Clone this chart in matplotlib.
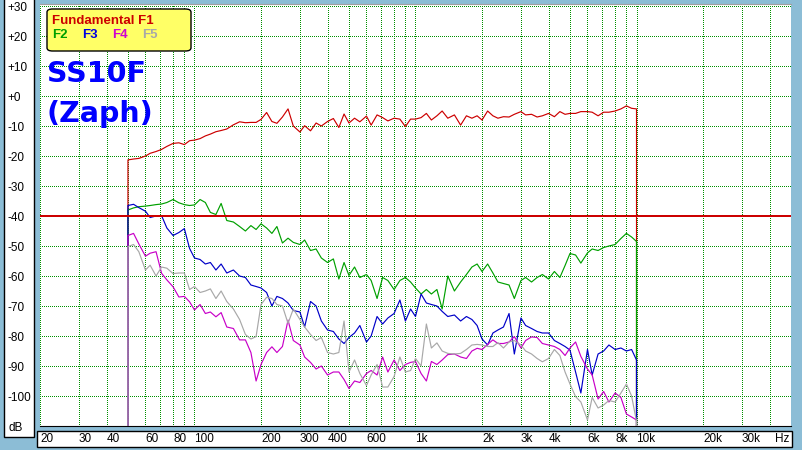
import matplotlib.pyplot as plt
from matplotlib.patches import Rectangle, FancyBboxPatch
from matplotlib.transforms import blended_transform_factory

# ---------------------------------------------------------
# Data (Hz / dB)
# ---------------------------------------------------------
freqs = [50, 53, 56, 60, 63, 67, 71, 75, 80, 85, 90, 95,
         100, 106, 112, 118, 125, 132, 140, 150, 160, 170, 180, 190,
         200, 212, 224, 236, 250, 265, 280, 300, 315, 335, 355, 375,
         400, 425, 450, 475, 500, 530, 560, 600, 630, 670, 710, 750,
         800, 850, 900, 950, 1000, 1060, 1120, 1180, 1250, 1320, 1400, 1500,
         1600, 1700, 1800, 1900, 2000, 2120, 2240, 2360, 2500, 2650, 2800, 3000,
         3150, 3350, 3550, 3750, 4000, 4250, 4500, 4750, 5000, 5300, 5600, 6000,
         6300, 6700, 7100, 7500, 8000, 8500, 9000, 9500, 10000]

f1 = [-21.3, -21.0, -20.8, -20.0, -19.1, -18.5, -17.8, -16.8, -15.8, -15.6, -16.2, -14.9,
      -14.7, -14.2, -13.3, -12.7, -11.9, -11.5, -11.0, -9.6, -8.6, -8.9, -8.8, -8.8,
      -7.8, -5.5, -8.5, -9.1, -7.0, -4.3, -10.0, -12.0, -9.9, -11.6, -9.0, -10.0,
      -8.5, -7.5, -10.5, -6.0, -9.0, -7.4, -8.6, -6.7, -9.7, -6.3, -7.2, -8.3,
      -7.4, -7.7, -10.2, -7.7, -7.7, -7.2, -5.8, -8.0, -6.6, -5.0, -7.4, -6.3,
      -9.7, -6.6, -7.4, -6.6, -8.0, -5.0, -6.6, -7.4, -6.9, -7.0, -6.1, -5.2,
      -6.3, -6.1, -7.0, -6.6, -5.8, -6.9, -5.2, -6.1, -5.8, -5.8, -5.2, -5.2,
      -5.4, -6.6, -5.4, -5.4, -5.0, -4.3, -3.3, -4.1, -4.3]

f2 = [-38.0, -37.3, -36.9, -36.7, -36.5, -36.2, -36.0, -35.5, -34.5, -35.6, -36.2, -36.5,
      -36.3, -34.5, -35.5, -38.8, -39.5, -35.8, -41.5, -42.0, -43.5, -45.0, -43.2, -44.5,
      -42.6, -44.0, -45.8, -43.5, -49.0, -47.4, -48.8, -49.5, -48.0, -51.5, -51.0, -54.0,
      -55.5, -54.3, -61.0, -55.5, -59.8, -57.0, -60.5, -59.5, -61.5, -67.5, -60.5, -61.5,
      -64.5, -61.5, -60.5, -62.0, -64.0, -66.0, -64.5, -66.0, -64.5, -71.0, -60.0, -65.0,
      -62.0, -59.5, -57.0, -56.0, -58.5, -56.0, -59.0, -62.0, -62.5, -63.0, -67.5, -61.5,
      -60.5, -62.0, -60.5, -59.5, -61.0, -58.5, -60.5, -56.5, -52.5, -53.0, -55.7, -52.3,
      -51.0, -51.5, -50.5, -50.0, -49.5, -47.5, -45.8, -47.0, -48.5]

f3 = [-36.5, -36.1, -37.2, -38.4, -40.5, -40.0, -39.9, -44.0, -46.5, -45.5, -44.2, -50.8,
      -54.0, -54.5, -56.0, -55.5, -58.0, -56.0, -59.0, -58.0, -60.0, -60.5, -63.0, -63.5,
      -64.0, -65.5, -70.0, -66.8, -67.5, -69.0, -71.5, -72.0, -77.0, -68.5, -70.0, -75.0,
      -78.0, -78.5, -81.0, -82.5, -80.5, -79.0, -76.5, -82.0, -80.0, -73.5, -76.0, -74.0,
      -72.5, -68.0, -75.0, -71.0, -73.5, -66.0, -69.0, -69.5, -70.0, -71.8, -73.5, -73.0,
      -75.0, -73.5, -74.5, -76.5, -81.0, -83.0, -79.0, -78.0, -77.0, -72.5, -86.0, -74.0,
      -76.5, -77.5, -78.5, -79.0, -79.0, -81.5, -82.5, -83.5, -84.7, -92.0, -99.0, -84.5,
      -93.0, -86.0, -85.0, -83.0, -84.5, -84.0, -85.0, -84.5, -88.0]

f4 = [-46.5, -45.8, -49.3, -53.4, -52.4, -51.9, -59.1, -61.3, -63.6, -67.0, -66.8, -68.6,
      -71.3, -69.5, -72.5, -72.0, -73.6, -72.2, -77.0, -77.5, -81.3, -81.3, -85.5, -95.0,
      -89.5, -85.5, -83.6, -85.5, -83.5, -74.7, -81.5, -83.0, -87.0, -88.8, -91.0, -90.0,
      -93.0, -92.0, -92.0, -94.5, -97.5, -95.0, -95.5, -92.5, -91.5, -93.0, -87.0, -92.0,
      -88.0, -91.5, -89.5, -88.8, -88.5, -92.5, -95.0, -88.5, -89.5, -88.0, -86.2, -86.0,
      -87.0, -87.5, -85.0, -84.1, -84.5, -82.8, -81.3, -82.5, -82.5, -82.0, -80.2, -84.0,
      -81.5, -80.3, -80.5, -82.5, -83.0, -83.5, -84.5, -86.5, -84.0, -82.0, -86.8, -91.0,
      -93.0, -101.0, -98.5, -102.0, -99.0, -100.5, -106.0, -107.0, -108.0]

f5 = [-50.2, -49.5, -51.9, -58.0, -56.4, -60.0, -57.0, -57.4, -59.2, -59.0, -59.0, -64.5,
      -63.5, -65.5, -65.0, -64.3, -67.5, -65.0, -68.5, -71.0, -74.5, -79.5, -81.0, -80.2,
      -69.5, -67.1, -67.5, -69.5, -70.0, -75.8, -71.0, -74.5, -77.0, -79.5, -81.5, -80.5,
      -85.5, -86.0, -85.5, -75.0, -92.0, -88.0, -92.5, -96.5, -93.0, -89.5, -97.0, -97.0,
      -93.5, -87.0, -92.0, -91.5, -87.5, -90.0, -76.0, -84.0, -82.3, -85.0, -85.8, -86.0,
      -85.8, -84.5, -83.0, -82.8, -83.0, -83.5, -83.5, -82.2, -84.0, -82.0, -81.5, -83.0,
      -85.0, -86.0, -87.5, -88.6, -87.5, -84.5, -86.5, -92.0, -96.0, -100.2, -102.0, -108.0,
      -100.5, -104.0, -103.0, -101.5, -102.0, -99.0, -96.0, -100.0, -108.5]

# drawn in this order (F5 ends up on top, like the analyser does)
series_vals = [f1, f2, f3, f4, f5]
series_colors = ['#cc0000', '#00a000', '#0000c8', '#c800c8', '#a8a8a8']

legend_title = 'Fundamental F1'
legend_names = ['F2', 'F3', 'F4', 'F5']
legend_colors = ['#00a000', '#0000e0', '#d000d0', '#a8a8a8']

ref_level = -40            # red reference line
floor_db = -130            # curves drop off-scale at both ends

y_ticks = [30, 20, 10, 0, -10, -20, -30, -40, -50, -60, -70, -80, -90, -100]
y_labels = ['+30', '+20', '+10', '+0', '-10', '-20', '-30', '-40', '-50',
            '-60', '-70', '-80', '-90', '-100']
x_ticks = [20, 30, 40, 60, 80, 100, 200, 300, 400, 600, 1000, 2000, 3000,
           4000, 6000, 8000, 10000, 20000, 30000]
x_labels = ['20', '30', '40', '60', '80', '100', '200', '300', '400', '600',
            '1k', '2k', '3k', '4k', '6k', '8k', '10k', '20k', '30k']
grid_freqs = [m * d for d in (10, 100, 1000, 10000) for m in range(1, 10)
              if 20 <= m * d <= 50000]

W, H = 803, 450
BG = '#8cbdd6'
GRID = '#009000'
PX = 0.72                  # one screen pixel in points at 100 dpi


def fx(x):
    return x / W


def fy(y):
    return 1 - y / H


fig = plt.figure(figsize=(W / 100, H / 100), dpi=100, facecolor=BG)
ax = fig.add_axes([fx(40), fy(426), 751 / W, 422 / H])
ax.set_xscale('log')
ax.set_xlim(20, 50000)
ax.set_ylim(-110, 30.67)
ax.tick_params(which='both', length=0, labelbottom=False, labelleft=False)
for side in ('left', 'right'):
    ax.spines[side].set_visible(False)
ax.spines['top'].set_color('#a0a0a0')
ax.spines['bottom'].set_color('black')

# ---------------------------------------------------------
# Grid (1 px dots)
# ---------------------------------------------------------
for f in grid_freqs:
    ax.axvline(f, color=GRID, lw=PX, ls=(0, (1, 2)), zorder=1, antialiased=False)
for db in y_ticks:
    ax.axhline(db, color=GRID, lw=PX, ls=(0, (1, 2)), zorder=1, antialiased=False)

# ---------------------------------------------------------
# Curves
# ---------------------------------------------------------
for vals, col in zip(series_vals, series_colors):
    xs = [freqs[0]] + freqs + [freqs[-1]]
    ys = [floor_db] + vals + [floor_db]
    ax.plot(xs, ys, color=col, lw=0.85, zorder=3)

ax.axhline(ref_level, color='#cc0000', lw=2 * PX, zorder=4, antialiased=False)

# ---------------------------------------------------------
# Label panels
# ---------------------------------------------------------
fig.add_artist(Rectangle((fx(4), fy(437)), 30 / W, 440 / H, transform=fig.transFigure,
                         facecolor='white', edgecolor='black', lw=1, zorder=0.5))
fig.add_artist(Rectangle((fx(37), fy(447)), 755 / W, 16 / H, transform=fig.transFigure,
                         facecolor='white', edgecolor='black', lw=1, zorder=0.5))

ytr = blended_transform_factory(fig.transFigure, ax.transData)
for v, s in zip(y_ticks, y_labels):
    fig.text(fx(7.5), v - 0.8, s, transform=ytr, ha='left', va='center',
             fontsize=8.5, family='Liberation Sans')
fig.text(fx(9), -110.8, 'dB', transform=ytr, ha='left', va='center',
         fontsize=8.5, family='Liberation Sans')

xtr = blended_transform_factory(ax.transData, fig.transFigure)
for v, s in zip(x_ticks, x_labels):
    fig.text(v, fy(439.5), s, transform=xtr, ha='left', va='center',
             fontsize=8.5, family='Liberation Sans')
fig.text(fx(789), fy(439.5), 'Hz', ha='right', va='center',
         fontsize=8.5, family='Liberation Sans')

# ---------------------------------------------------------
# Legend box and title
# ---------------------------------------------------------
fig.add_artist(FancyBboxPatch((fx(47), fy(51)), 144 / W, 42 / H,
                              boxstyle='round,pad=0,rounding_size=0.007',
                              transform=fig.transFigure, facecolor='#ffff66',
                              edgecolor='black', lw=1, zorder=5))
fig.text(fx(52), fy(24.3), legend_title, color='#cc0000', ha='left',
         va='baseline', fontsize=9.5, fontweight='bold', family='Liberation Sans', zorder=6)
for name, col, x in zip(legend_names, legend_colors, [52, 82, 112, 142]):
    fig.text(fx(x), fy(38.3), name, color=col, ha='left', va='baseline',
             fontsize=9.5, fontweight='bold', family='Liberation Sans', zorder=6)

fig.text(fx(47), fy(82), 'SS10F', color='#0000ff', ha='left', va='baseline',
         fontsize=20.5, fontweight='bold', family='DejaVu Sans', zorder=6)
fig.text(fx(47), fy(122), '(Zaph)', color='#0000ff', ha='left', va='baseline',
         fontsize=20.5, fontweight='bold', family='DejaVu Sans', zorder=6)

fig.savefig('out.png', dpi=100, facecolor=BG)
